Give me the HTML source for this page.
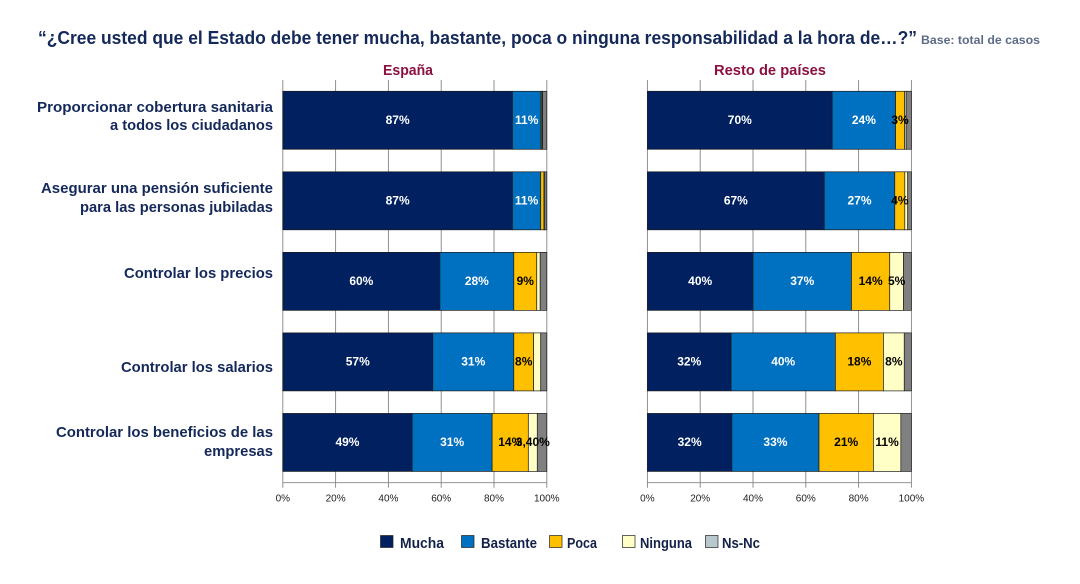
<!DOCTYPE html>
<html lang="es">
<head>
<meta charset="utf-8">
<title>Responsabilidad del Estado</title>
<style>
html,body{margin:0;padding:0;background:#fff;width:1080px;height:584px;overflow:hidden}
svg{display:block;font-family:"Liberation Sans",sans-serif}
.cat{font-size:15px;font-weight:bold;fill:#14285a;text-anchor:end}
.leg{font-size:14.5px;font-weight:bold;fill:#14224a}
</style>
</head>
<body>
<svg id="chart" width="1080" height="584" viewBox="0 0 1080 584" xmlns="http://www.w3.org/2000/svg">
  <rect x="0" y="0" width="1080" height="584" fill="#ffffff"/>
  <text x="38" y="44" font-size="18" font-weight="bold" fill="#14285a" textLength="879" lengthAdjust="spacingAndGlyphs">“¿Cree usted que el Estado debe tener mucha, bastante, poca o ninguna responsabilidad a la hora de…?”</text>
  <text x="921" y="44" font-size="11.5" font-weight="bold" fill="#5c6b88" textLength="119" lengthAdjust="spacingAndGlyphs">Base: total de casos</text>
  <text x="383" y="75" font-size="14.5" font-weight="bold" fill="#8c1140" textLength="50" lengthAdjust="spacingAndGlyphs">España</text>
  <text x="714" y="75" font-size="14.5" font-weight="bold" fill="#8c1140" textLength="112" lengthAdjust="spacingAndGlyphs">Resto de países</text>

  <g>
    <text class="cat" x="273" y="112" textLength="236" lengthAdjust="spacingAndGlyphs">Proporcionar cobertura sanitaria</text>
    <text class="cat" x="273" y="130" textLength="163" lengthAdjust="spacingAndGlyphs">a todos los ciudadanos</text>
    <text class="cat" x="273" y="193" textLength="232" lengthAdjust="spacingAndGlyphs">Asegurar una pensión suficiente</text>
    <text class="cat" x="273" y="212" textLength="193" lengthAdjust="spacingAndGlyphs">para las personas jubiladas</text>
    <text class="cat" x="273" y="278" textLength="149" lengthAdjust="spacingAndGlyphs">Controlar los precios</text>
    <text class="cat" x="273" y="372" textLength="152" lengthAdjust="spacingAndGlyphs">Controlar los salarios</text>
    <text class="cat" x="273" y="437" textLength="217" lengthAdjust="spacingAndGlyphs">Controlar los beneficios de las</text>
    <text class="cat" x="273" y="456" textLength="69" lengthAdjust="spacingAndGlyphs">empresas</text>
  </g>

  <g id="panels"></g>

  <g>
    <rect x="380.5" y="535.5" width="12.5" height="12" fill="#002060" stroke="#222" stroke-width="0.7"/>
    <text class="leg" x="400" y="548" textLength="44" lengthAdjust="spacingAndGlyphs">Mucha</text>
    <rect x="461.5" y="535.5" width="12.5" height="12" fill="#0070c0" stroke="#222" stroke-width="0.7"/>
    <text class="leg" x="481" y="548" textLength="56" lengthAdjust="spacingAndGlyphs">Bastante</text>
    <rect x="549.5" y="535.5" width="12.5" height="12" fill="#ffc000" stroke="#222" stroke-width="0.7"/>
    <text class="leg" x="567" y="548" textLength="30" lengthAdjust="spacingAndGlyphs">Poca</text>
    <rect x="622.5" y="535.5" width="12.5" height="12" fill="#ffffc6" stroke="#222" stroke-width="0.7"/>
    <text class="leg" x="640" y="548" textLength="52" lengthAdjust="spacingAndGlyphs">Ninguna</text>
    <rect x="705.5" y="535.5" width="12.5" height="12" fill="#b8c8cc" stroke="#222" stroke-width="0.7"/>
    <text class="leg" x="722" y="548" textLength="38" lengthAdjust="spacingAndGlyphs">Ns-Nc</text>
  </g>
</svg>
<script>
const seriesNames = ["mucha", "bastante", "poca", "ninguna", "ns-nc"];
const rowNames = ["sanidad", "pension", "precios", "salarios", "beneficios"];
const tickValues = [0, 20, 40, 60, 80, 100];
const tickLabels = ["0%", "20%", "40%", "60%", "80%", "100%"];

const spainMucha = [87, 87, 59.5, 56.8, 49];
const spainBastante = [10.8, 10.7, 28, 30.7, 30.3];
const spainPoca = [0.4, 1.2, 8.7, 7.5, 13.7];
const spainNinguna = [0.2, 0.2, 1.3, 2.7, 3.4];
const spainNsNc = [1.6, 0.9, 2.5, 2.3, 3.6];
const spainPrinted = [
  ["87%", "11%", "", "", ""],
  ["87%", "11%", "", "", ""],
  ["60%", "28%", "9%", "", ""],
  ["57%", "31%", "8%", "", ""],
  ["49%", "31%", "14%", "3,40%", ""]
];

const restMucha = [70, 67, 40, 31.7, 32];
const restBastante = [24, 26.7, 37.3, 39.5, 33];
const restPoca = [3.4, 3.8, 14.5, 18.2, 20.6];
const restNinguna = [0.6, 1.1, 5.2, 7.9, 10.4];
const restNsNc = [2, 1.4, 3, 2.7, 4];
const restPrinted = [
  ["70%", "24%", "3%", "", ""],
  ["67%", "27%", "4%", "", ""],
  ["40%", "37%", "14%", "5%", ""],
  ["32%", "40%", "18%", "8%", ""],
  ["32%", "33%", "21%", "11%", ""]
];

const fills = { "mucha": "#002060", "bastante": "#0070c0", "poca": "#ffc000", "ninguna": "#ffffc6", "ns-nc": "#808080" };
const labelInks = { "mucha": "#ffffff", "bastante": "#ffffff", "poca": "#000000", "ninguna": "#000000", "ns-nc": "#000000" };

const NS = "http://www.w3.org/2000/svg";
const plotTop = 80, plotBottom = 482.7, plotWidth = 264, barHeight = 58;
const rowStep = (plotBottom - plotTop) / rowNames.length;

function make(tag, attrs, parent) {
  const el = document.createElementNS(NS, tag);
  for (const k in attrs) el.setAttribute(k, attrs[k]);
  parent.appendChild(el);
  return el;
}

function drawPanel(panelName, left, series, printed) {
  const xScale = v => left + (v / 100) * plotWidth;
  const yCenter = i => plotTop + rowStep * (i + 0.5);
  const root = document.getElementById("panels");
  const g = make("g", {}, root);
  
  

  tickValues.forEach((t, i) => {
    const grid = make("line", { x1: xScale(t), x2: xScale(t), y1: plotTop, y2: plotBottom + 5, stroke: "#858585", "stroke-width": 0.9 }, g);
    
    
    const tick = make("text", { x: xScale(t), y: 501.5, "font-size": 10, fill: "#222", "text-anchor": "middle" }, g);
    tick.textContent = tickLabels[i];
    
    
  });
  const axis = make("line", { x1: xScale(0), x2: xScale(100), y1: plotBottom, y2: plotBottom, stroke: "#858585", "stroke-width": 0.9 }, g);
  
  

  rowNames.forEach((row, i) => {
    let cum = 0;
    const labels = [];
    seriesNames.forEach((s, j) => {
      const v = series[j][i];
      const rect = make("rect", {
        x: xScale(cum), y: yCenter(i) - barHeight / 2,
        width: xScale(cum + v) - xScale(cum), height: barHeight,
        fill: fills[s], stroke: "#1c1c1c", "stroke-width": 0.7
      }, g);
      
      
      if (printed[i][j]) labels.push({ text: printed[i][j], x: xScale(cum + v / 2), s: s });
      cum += v;
    });
    labels.forEach(l => {
      const t = make("text", {
        x: l.x, y: yCenter(i) + 3.5, "font-size": 12, "font-weight": "bold",
        "text-anchor": "middle", fill: labelInks[l.s]
      }, g);
      t.textContent = l.text;
      
      
    });
  });
}

drawPanel("spain", 282.8, [spainMucha, spainBastante, spainPoca, spainNinguna, spainNsNc], spainPrinted);
drawPanel("rest", 647.4, [restMucha, restBastante, restPoca, restNinguna, restNsNc], restPrinted);
</script>
</body>
</html>
